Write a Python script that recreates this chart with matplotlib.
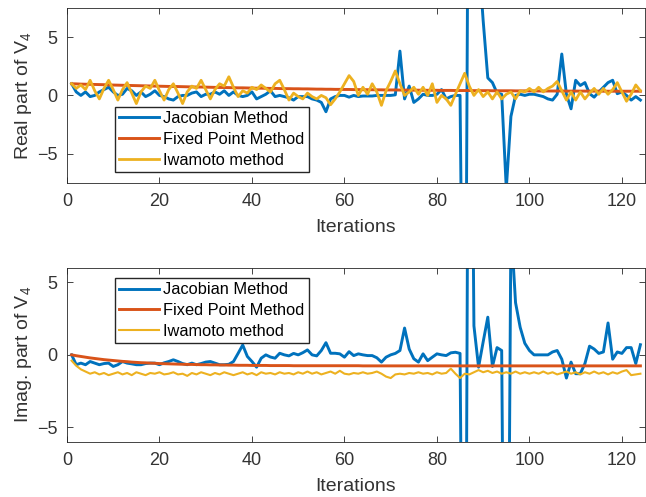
import matplotlib
matplotlib.use("Agg")
import matplotlib.pyplot as plt

plt.rcParams['font.family'] = ['Liberation Sans', 'DejaVu Sans']
plt.rcParams['mathtext.fontset'] = 'custom'
plt.rcParams['mathtext.rm'] = 'Liberation Sans'

iterations = list(range(1, 125))

jac_re = [1.0, 0.3, 0.0, 0.3, -0.1, 0.0, 0.3, 0.5, 0.7, 0.3,
          0.0, 0.1, 0.6, 0.4, 0.0, 0.3, -0.1, 0.1, 0.4, 0.0,
          -0.1, -0.3, -0.4, -0.1, 0.0, 0.0, 0.2, 0.3, -0.1, 0.1,
          0.1, 0.3, 0.1, 0.4, 0.0, 0.3, 0.0, -0.1, 0.0, 0.3,
          -0.3, -0.1, 0.1, 0.4, -0.1, 0.0, -0.1, -0.2, -0.4, -0.1,
          -0.1, -0.1, -0.3, -0.4, -0.6, -1.4, -0.3, -0.1, 0.0, 0.0,
          -0.15, 0.0, -0.1, -0.05, -0.05, -0.05, 0.0, 0.0, 0.0, 0.0,
          0.05, 3.8, -0.3, 0.8, -0.6, -0.3, 0.1, 0.0, 0.0, 0.1,
          0.5, -0.3, -0.1, 0.0, 0.0, -40.0, 40.0, 20.0, 12.0, 6.4,
          1.5, 1.1, 0.2, 0.1, -8.0, -1.8, 0.0, 0.1, 0.0, 0.1,
          0.1, 0.0, -0.1, -0.3, -0.4, 0.1, 3.55, 0.1, -1.15, 1.3,
          0.85, 1.1, 0.15, -0.15, 0.3, 0.7, 1.1, 1.3, 0.15, 0.3,
          0.0, -0.4, -0.1, -0.4]

fix_re = [1.00, 0.99, 0.97, 0.96, 0.95, 0.94, 0.93, 0.92, 0.90, 0.89,
          0.88, 0.87, 0.86, 0.85, 0.84, 0.83, 0.82, 0.81, 0.80, 0.79,
          0.78, 0.77, 0.77, 0.76, 0.75, 0.74, 0.73, 0.72, 0.72, 0.71,
          0.70, 0.69, 0.68, 0.68, 0.67, 0.66, 0.65, 0.65, 0.64, 0.63,
          0.62, 0.62, 0.61, 0.60, 0.60, 0.59, 0.58, 0.58, 0.57, 0.57,
          0.56, 0.56, 0.55, 0.54, 0.54, 0.53, 0.53, 0.52, 0.52, 0.51,
          0.51, 0.50, 0.50, 0.49, 0.49, 0.49, 0.48, 0.48, 0.47, 0.47,
          0.47, 0.46, 0.46, 0.45, 0.45, 0.45, 0.44, 0.44, 0.44, 0.44,
          0.43, 0.43, 0.43, 0.42, 0.42, 0.42, 0.42, 0.41, 0.41, 0.41,
          0.41, 0.40, 0.40, 0.40, 0.40, 0.40, 0.39, 0.39, 0.39, 0.39,
          0.39, 0.38, 0.38, 0.38, 0.38, 0.38, 0.38, 0.37, 0.37, 0.37,
          0.37, 0.37, 0.37, 0.37, 0.37, 0.36, 0.36, 0.36, 0.36, 0.36,
          0.36, 0.36, 0.36, 0.36]

iw_re = [1.0, 0.6, 0.9, 0.5, 1.3, 0.4, -0.3, 0.6, 1.3, 0.5,
         -0.4, 0.5, 1.1, 0.2, -0.7, 0.3, 0.8, 0.6, 1.3, 0.4,
         -0.4, 0.5, 1.0, 0.2, -0.7, 0.3, 0.8, 0.6, 1.3, 0.5,
         -0.3, 0.5, 1.0, 0.8, 1.6, 0.7, -0.1, 0.4, 0.2, 0.7,
         0.5, 0.9, 0.6, 0.3, 1.0, 1.3, 0.5, -0.4, 0.2, -0.1,
         -0.3, 0.2, -0.1, -0.3, 0.0, -0.2, -0.8, -0.3, 0.3, 1.0,
         1.7, 1.2, 0.0, 0.7, 0.1, 1.0, 0.3, -0.85, 0.4, 1.2,
         2.1, 1.0, 0.0, 0.3, 0.7, 0.1, 0.7, 0.0, 1.0, -0.6,
         0.0, -0.3, -0.85, 0.1, 1.0, 1.9, 0.8, 0.0, 0.5, -0.1,
         0.3, -0.3, 0.3, -0.3, 0.1, 0.3, -0.3, 0.4, 0.3, 0.6,
         0.3, 0.7, 0.3, 0.6, 0.8, 1.2, 0.4, -0.4, 0.3, -0.4,
         0.3, -0.3, 0.2, 0.6, 0.1, 0.6, 0.1, 0.5, 1.1, 0.3,
         -0.5, 0.1, 0.9, 0.4]

jac_im = [0.0, -0.68, -0.57, -0.68, -0.46, -0.57, -0.68, -0.6, -0.57, -0.8,
          -0.68, -0.46, -0.57, -0.62, -0.68, -0.68, -0.6, -0.57, -0.57, -0.68,
          -0.55, -0.46, -0.34, -0.46, -0.6, -0.68, -0.57, -0.68, -0.6, -0.5,
          -0.46, -0.57, -0.68, -0.68, -0.65, -0.46, 0.1, 0.68, -0.11, -0.46,
          -0.85, -0.23, 0.0, -0.15, -0.23, 0.11, 0.0, -0.07, 0.1, 0.0,
          0.15, 0.34, 0.0, -0.07, 0.3, 0.84, 0.11, 0.11, 0.07, -0.16,
          0.22, -0.05, 0.07, 0.0, -0.05, -0.05, -0.2, -0.5, -0.16, 0.0,
          0.1, 0.3, 1.85, 0.4, -0.27, -0.5, 0.07, -0.4, -0.16, 0.07,
          0.0, -0.05, 0.14, 0.18, 0.1, -40.0, 40.0, 2.0, -0.85, 0.9,
          2.6, -0.8, 0.5, 0.3, -40.0, 9.0, 3.6, 1.9, 0.8, 0.3,
          0.0, 0.0, 0.0, 0.0, 0.2, 0.3, -0.3, -1.6, -0.5, -1.3,
          -1.3, -0.6, 0.6, 0.4, 0.1, 0.2, 2.2, -0.3, 0.2, 0.1,
          0.5, 0.5, -0.6, 0.7]

fix_im = [0.00, -0.06, -0.11, -0.16, -0.21, -0.25, -0.29, -0.33, -0.36, -0.39,
          -0.42, -0.45, -0.47, -0.50, -0.52, -0.54, -0.55, -0.57, -0.58, -0.60,
          -0.61, -0.62, -0.63, -0.64, -0.65, -0.66, -0.66, -0.67, -0.68, -0.68,
          -0.69, -0.69, -0.70, -0.70, -0.71, -0.71, -0.72, -0.72, -0.72, -0.73,
          -0.73, -0.73, -0.73, -0.74, -0.74, -0.74, -0.74, -0.74, -0.75, -0.75,
          -0.75, -0.75, -0.75, -0.75, -0.75, -0.75, -0.75, -0.75, -0.75, -0.75,
          -0.75, -0.75, -0.75, -0.76, -0.76, -0.76, -0.76, -0.76, -0.76, -0.76,
          -0.76, -0.76, -0.76, -0.76, -0.76, -0.76, -0.76, -0.76, -0.76, -0.76,
          -0.76, -0.76, -0.76, -0.76, -0.76, -0.76, -0.76, -0.76, -0.76, -0.76,
          -0.76, -0.76, -0.76, -0.76, -0.76, -0.76, -0.76, -0.76, -0.76, -0.76,
          -0.76, -0.76, -0.76, -0.76, -0.76, -0.76, -0.76, -0.76, -0.76, -0.76,
          -0.76, -0.76, -0.76, -0.76, -0.76, -0.76, -0.76, -0.76, -0.76, -0.76,
          -0.76, -0.76, -0.76, -0.76]

iw_im = [-0.4, -0.75, -1.0, -1.15, -1.3, -1.2, -1.35, -1.25, -1.4, -1.3,
         -1.2, -1.35, -1.25, -1.4, -1.2, -1.3, -1.4, -1.25, -1.3, -1.2,
         -1.35, -1.3, -1.2, -1.35, -1.3, -1.45, -1.25, -1.35, -1.2, -1.3,
         -1.4, -1.25, -1.35, -1.2, -1.3, -1.4, -1.3, -1.2, -1.35, -1.25,
         -1.4, -1.2, -1.3, -1.25, -1.35, -1.2, -1.3, -1.25, -1.35, -1.2,
         -1.3, -1.15, -1.3, -1.2, -1.35, -1.25, -1.15, -1.3, -1.1, -1.3,
         -1.35, -1.25, -1.3, -1.2, -1.3, -1.25, -1.15, -1.3, -1.5, -1.6,
         -1.35, -1.3, -1.35, -1.25, -1.3, -1.2, -1.3, -1.25, -1.35, -1.2,
         -1.3, -1.25, -0.95, -1.3, -1.6, -1.3, -1.35, -1.2, -1.05, -1.2,
         -1.1, -1.25, -1.15, -1.3, -1.2, -1.3, -1.15, -1.3, -1.2, -1.3,
         -1.2, -1.3, -1.15, -1.3, -1.2, -1.35, -1.25, -1.15, -1.3, -1.2,
         -1.35, -1.2, -1.3, -1.15, -1.3, -1.2, -1.35, -1.2, -1.3, -1.15,
         -1.05, -1.4, -1.35, -1.3]

labels = ['Jacobian Method', 'Fixed Point Method', 'Iwamoto method']
colors = ['#0072BD', '#D95319', '#EDB120']
xticks = [0, 20, 40, 60, 80, 100, 120]
yticks = [-5, 0, 5]

fig = plt.figure(figsize=(6.46, 4.97), dpi=100)
ax1 = fig.add_axes([0.1037, 0.632, 0.8948, 0.352])
ax2 = fig.add_axes([0.1037, 0.111, 0.8948, 0.350])

txt = '#333333'


def style(ax):
    ax.set_xlim(0, 125)
    ax.set_xticks(xticks)
    ax.set_yticks(yticks)
    ax.tick_params(direction='in', top=True, right=True, length=4,
                   width=0.6, colors='#262626', labelcolor=txt,
                   labelsize=13, pad=7)
    for s in ax.spines.values():
        s.set_color('#262626')
        s.set_linewidth(0.6)
    ax.set_xlabel('Iterations', fontsize=14, color=txt, labelpad=7)


ax1.plot(iterations, jac_re, color=colors[0], lw=2.1, label=labels[0])
ax1.plot(iterations, fix_re, color=colors[1], lw=2.1, label=labels[1])
ax1.plot(iterations, iw_re, color=colors[2], lw=2.0, label=labels[2])
ax1.set_ylim(-7.5, 7.5)
style(ax1)
ax1.set_ylabel('Real part of V$_\\mathregular{4}$', fontsize=14, color=txt, labelpad=2)
ax1.legend(loc='upper left', bbox_to_anchor=(0.083, 0.434), fontsize=11.8,
           frameon=True, fancybox=False, edgecolor='#262626', framealpha=1,
           borderpad=0.25, labelspacing=0.35, handlelength=2.45,
           handletextpad=0.25, borderaxespad=0)

ax2.plot(iterations, jac_im, color=colors[0], lw=2.1, label=labels[0])
ax2.plot(iterations, fix_im, color=colors[1], lw=2.1, label=labels[1])
ax2.plot(iterations, iw_im, color=colors[2], lw=1.5, label=labels[2])
ax2.set_ylim(-6, 6)
style(ax2)
ax2.set_ylabel('Imag. part of V$_\\mathregular{4}$', fontsize=14, color=txt, labelpad=2)
ax2.legend(loc='upper left', bbox_to_anchor=(0.083, 0.941), fontsize=11.8,
           frameon=True, fancybox=False, edgecolor='#262626', framealpha=1,
           borderpad=0.25, labelspacing=0.35, handlelength=2.45,
           handletextpad=0.25, borderaxespad=0)

fig.savefig('out.png', dpi=100)
